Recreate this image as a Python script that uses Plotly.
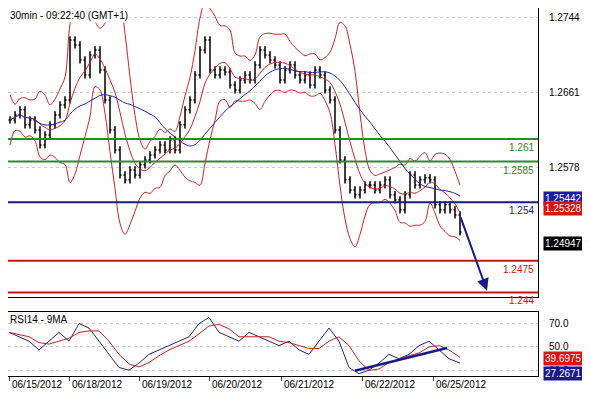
import plotly.graph_objects as go
import pandas as pd

# close price (pixel-position x, price)
bar_x = list(range(10, 461, 5))
close_y_px = [120,115,110,125,120,130,145,135,125,115,105,100,40,45,60,75,55,50,70,
              100,130,150,175,180,170,175,165,160,155,150,145,150,140,150,125,110,100,75,50,
              40,70,75,70,72,85,90,80,75,80,65,50,55,60,65,80,70,65,75,80,
              75,85,70,75,90,100,130,160,180,190,195,190,185,185,190,185,180,195,200,210,
              195,175,185,180,178,180,205,210,205,210,215,232]
close = [round(1.2744 - (y - 18) * 0.0001107, 5) for y in close_y_px]

rsi_x = list(range(9, 456, 10)) + [460]
rsi = [62.5,58.7,54.9,47.4,54.9,62.5,54.9,70.0,66.2,54.9,43.6,32.3,30.0,36.1,43.6,47.4,
       51.1,54.9,58.7,70.0,75.3,62.5,58.7,54.9,62.5,58.7,54.9,51.1,54.9,47.4,43.6,54.9,
       66.2,54.9,32.3,27.0,30.0,36.1,43.6,39.8,43.6,51.1,54.9,47.4,39.8,36.1,27.3]

levels_green = [1.261, 1.2585]
level_blue = [1.254]
levels_red = [1.2475, 1.244]
price_ticks = [1.2578, 1.2661, 1.2744]
rsi_ticks = [70, 50, 30]
date_pos = [9, 69, 139, 209, 281, 362, 433]
date_text = ["06/15/2012", "06/18/2012", "06/19/2012", "06/20/2012", "06/21/2012", "06/22/2012", "06/25/2012"]

s = pd.Series(close)
opn = [close[0]] + close[:-1]
high = [max(o, c) + 0.0004 for o, c in zip(opn, close)]
low = [min(o, c) - 0.0004 for o, c in zip(opn, close)]
mid = s.rolling(6, min_periods=1).mean()
sd = s.rolling(6, min_periods=2).std().fillna(0.001)
upper, lower = mid + 2.2 * sd + 0.0006, mid - 2.2 * sd - 0.0006
ma = s.rolling(18, min_periods=1).mean()
rsi_ma = pd.Series(rsi).rolling(3, min_periods=1).mean()

fig = go.Figure()
fig.add_trace(go.Ohlc(x=bar_x, open=opn, high=high, low=low, close=close,
                      increasing_line_color="black", decreasing_line_color="black",
                      line_width=1.5, tickwidth=0.3, xaxis="x", yaxis="y"))
for band in (upper, lower, mid):
    fig.add_trace(go.Scatter(x=bar_x, y=band, mode="lines", line=dict(color="#cc2222", width=1, shape="spline")))
fig.add_trace(go.Scatter(x=bar_x, y=ma, mode="lines", line=dict(color="#2222aa", width=1, shape="spline")))
fig.add_trace(go.Scatter(x=rsi_x, y=rsi, mode="lines", line=dict(color="#222288", width=1), xaxis="x2", yaxis="y2"))
fig.add_trace(go.Scatter(x=rsi_x, y=rsi_ma, mode="lines", line=dict(color="#cc2222", width=1), xaxis="x2", yaxis="y2"))

def level(lv, color):
    fig.add_shape(type="line", x0=8, x1=538, y0=lv, y1=lv, line=dict(color=color, width=2), xref="x", yref="y")
    fig.add_annotation(x=536, y=lv, text=str(lv), showarrow=False, xanchor="right", yanchor="top",
                       font=dict(color=color, size=10), yshift=-1)
for lv in levels_green:
    level(lv, "#2a8a2a")
for lv in level_blue:
    level(lv, "#1a1a88")
for lv in levels_red:
    level(lv, "#cc1111")

fig.add_annotation(x=487, y=1.2442, ax=460, ay=1.2525, xref="x", yref="y", axref="x", ayref="y",
                   showarrow=True, arrowhead=2, arrowsize=1.2, arrowwidth=2, arrowcolor="#1a1a88", text="")
fig.add_shape(type="line", x0=355, y0=29.5, x1=447, y1=49, xref="x2", yref="y2",
              line=dict(color="#1a1a88", width=2.5))

def box(y, txt, bg, yref):
    fig.add_annotation(x=1.0, xref="paper", y=y, yref=yref, text=txt, showarrow=False, xanchor="left",
                       bgcolor=bg, font=dict(color="white", size=10), xshift=5, borderpad=1)
box(1.25442, "1.25442", "#1a1aaa", "y")
box(1.25328, "1.25328", "#dd1111", "y")
box(1.24947, "1.24947", "black", "y")
box(39.6975, "39.6975", "#dd1111", "y2")
box(27.2671, "27.2671", "#1a1a88", "y2")

for p, t in zip(date_pos, date_text):
    fig.add_annotation(x=p, y=0, xref="x2", yref="paper", text=t, showarrow=False, xanchor="left",
                       yanchor="top", xshift=1, yshift=-1, font=dict(size=10))

fig.add_annotation(x=0.0, y=1.0, xref="paper", yref="paper", text="30min - 09:22:40 (GMT+1)", showarrow=False,
                   xanchor="left", yanchor="top", font=dict(size=10, color="black"), bgcolor="white")
fig.add_annotation(x=0.0, y=0.174, xref="paper", yref="paper", text="RSI14 - 9MA", showarrow=False,
                   xanchor="left", yanchor="top", font=dict(size=10, color="black"))

ax_common = dict(showline=True, linecolor="black", mirror=True, zeroline=False, automargin=False)
fig.update_layout(
    width=582, height=392, margin=dict(l=0, r=52, t=0, b=24), showlegend=False,
    plot_bgcolor="white", paper_bgcolor="white", font=dict(family="Liberation Sans", size=10, color="black"),
    xaxis=dict(range=[8, 538], domain=[0, 1], showticklabels=False, showgrid=False, rangeslider=dict(visible=False), anchor="y", **ax_common),
    yaxis=dict(range=[1.2435, 1.2755], domain=[0.2147, 1], side="right", tickvals=price_ticks, ticktext=[f"{v:.4f}" for v in price_ticks],
               showgrid=True, gridcolor="#cccccc", griddash="dot", anchor="x", ticklen=0, ticklabelstandoff=8, **ax_common),
    xaxis2=dict(range=[8, 538], domain=[0, 1], tickvals=date_pos, showticklabels=False, ticks="outside", ticklen=4,
                showgrid=False, anchor="y2", **ax_common),
    yaxis2=dict(range=[25, 80], domain=[0, 0.174], side="right", tickvals=rsi_ticks, ticktext=[f"{v:.1f}" for v in rsi_ticks],
                showgrid=True, gridcolor="#cccccc", griddash="dot", anchor="x2", ticklen=0, ticklabelstandoff=8, **ax_common),
)
fig.write_html("out.html")
